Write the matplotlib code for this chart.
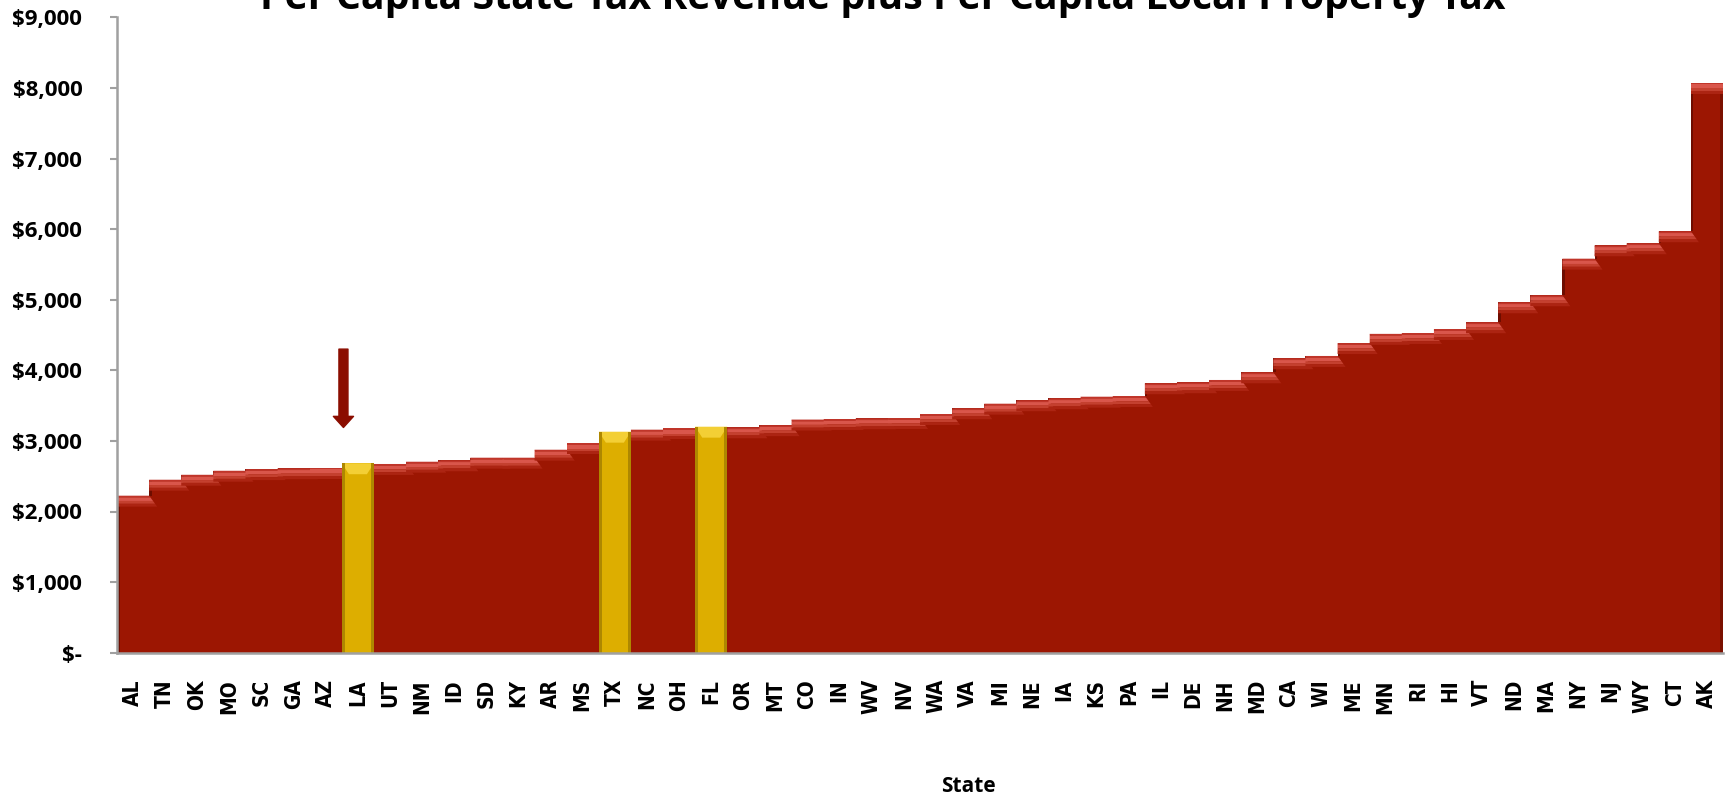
import matplotlib
matplotlib.use("Agg")
import matplotlib.pyplot as plt
from matplotlib import font_manager
from matplotlib.patches import Polygon
import numpy as np

states = ["AL", "TN", "OK", "MO", "SC", "GA", "AZ", "LA", "UT", "NM", "ID", "SD", "KY",
          "AR", "MS", "TX", "NC", "OH", "FL", "OR", "MT", "CO", "IN", "WV", "NV", "WA",
          "VA", "MI", "NE", "IA", "KS", "PA", "IL", "DE", "NH", "MD", "CA", "WI", "ME",
          "MN", "RI", "HI", "VT", "ND", "MA", "NY", "NJ", "WY", "CT", "AK"]
values = [2224, 2450, 2520, 2577, 2600, 2612, 2620, 2683, 2673, 2705, 2725, 2762, 2762,
          2875, 2966, 3130, 3159, 3178, 3201, 3192, 3222, 3302, 3310, 3320, 3324, 3381,
          3462, 3527, 3575, 3603, 3626, 3636, 3816, 3830, 3863, 3971, 4170, 4203, 4385,
          4516, 4528, 4585, 4680, 4963, 5062, 5581, 5770, 5799, 5969, 8074]
highlight = ["LA", "TX", "FL"]
yticks = [0, 1000, 2000, 3000, 4000, 5000, 6000, 7000, 8000, 9000]
ytick_labels = ["$-", "$1,000", "$2,000", "$3,000", "$4,000", "$5,000", "$6,000",
                "$7,000", "$8,000", "$9,000"]
title = "Per Capita State Tax Revenue plus Per Capita Local Property Tax"
xlabel = "State"
arrow_x = 6.55
arrow_from = 4300
arrow_to = 3190

avail = {f.name for f in font_manager.fontManager.ttflist}
narrow = "Liberation Sans Narrow" if "Liberation Sans Narrow" in avail else "Open Sans"
plt.rcParams["font.family"] = [narrow, "DejaVu Sans"]

W, H, DPI = 1725, 797, 100
fig = plt.figure(figsize=(W / DPI, H / DPI), dpi=DPI)
ax = fig.add_axes([117 / W, 1 - 652.7 / H, (1723 - 117) / W, (652.7 - 17.3) / H])

x = np.arange(len(states))
v = np.array(values, dtype=float)
isy = np.array([s in highlight for s in states])
red, red_dk = "#9C1602", "#6E0D00"
yel, yel_lt, yel_dk = "#DDAE00", "#F3CF35", "#AE8700"

cols = [yel if h else red for h in isy]
ax.bar(x, v, width=1.0, color=cols, linewidth=0, zorder=2)

# shadow on rising steps
prev = np.concatenate([[0], v[:-1]])
rise = (v > prev) & ~isy
ax.bar(x[rise] - 0.5, (v - prev)[rise], bottom=prev[rise], width=0.08, align="edge",
       color=red_dk, linewidth=0, zorder=3)
# right edge shading of last bar
ax.bar(x[-1] + 0.42, v[-1], width=0.08, align="edge", color="#7A1000", linewidth=0,
       zorder=3)

# bevel faces (parallelograms derived from each bar's value)
h = 155.0
bands = [(0, 25, "#C0352A"), (25, 75, "#D9564B"), (75, 115, "#C4402F"), (115, 155, "#AC2412")]
next_y = np.concatenate([isy[1:], [True]])
for xi, vi, yh, ny in zip(x, v, isy, next_y):
    x0, x1 = xi - 0.5, xi + 0.5
    if yh:
        ax.add_patch(Polygon([(x0, vi), (x1, vi), (x1 - 0.22, vi - h), (x0 + 0.22, vi - h)],
                             closed=True, facecolor=yel_lt, edgecolor="none", zorder=4))
        ax.bar(xi - 0.5, vi, width=0.1, align="edge", color=yel_dk, linewidth=0, zorder=4)
        ax.bar(xi + 0.4, vi, width=0.1, align="edge", color=yel_dk, linewidth=0, zorder=4)
        continue
    d = 0.0 if ny else 0.25
    for a, b, c in bands:
        ax.add_patch(Polygon([(x0, vi - a), (x1 + d * a / h, vi - a),
                              (x1 + d * b / h, vi - b), (x0, vi - b)],
                             closed=True, facecolor=c, edgecolor="none", zorder=4))

ax.annotate("", xy=(arrow_x, arrow_to), xytext=(arrow_x, arrow_from),
            arrowprops=dict(width=6.5, headwidth=14.5, headlength=8, color="#8B0D00",
                            shrink=0), zorder=5)

ax.set_xlim(-0.5, len(states) - 0.5)
ax.set_ylim(0, 9000)
ax.set_yticks(yticks)
ax.set_yticklabels(ytick_labels, fontsize=16, fontweight="bold")
ax.set_xticks(x)
ax.set_xticklabels(states, rotation=90, fontsize=15, fontweight="bold",
                   family="DejaVu Sans", fontstretch="condensed")
ax.tick_params(axis="x", length=0, pad=19)
ax.tick_params(axis="y", length=5, width=1.5, color="#A0A0A0", pad=20)
for s in ("top", "right"):
    ax.spines[s].set_visible(False)
for s in ("left", "bottom"):
    ax.spines[s].set_color("#A0A0A0")
    ax.spines[s].set_linewidth(1.8)
    ax.spines[s].set_zorder(6)

fig.text(883 / W, 1 - 9 / H, title, ha="center", va="baseline", fontsize=28.3,
         fontweight="bold")
fig.text(968 / W, 1 - 786 / H, xlabel, ha="center", va="center", fontsize=15,
         fontweight="bold")

fig.savefig("out.png", dpi=DPI)
